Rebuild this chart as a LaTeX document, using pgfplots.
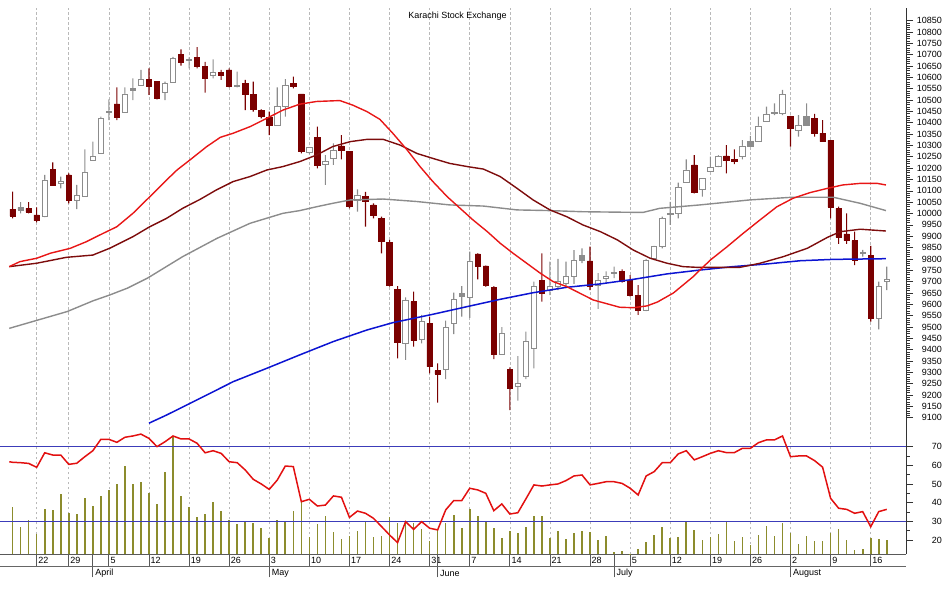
\documentclass[border=0pt]{standalone}
\usepackage{pgfplots}
\usepackage{pgfplotstable}
\pgfplotsset{compat=1.18}
\usepackage{fontspec}
\setmainfont{Liberation Sans}

\definecolor{dn}{RGB}{122,0,0}
\definecolor{hol}{RGB}{140,140,140}
\definecolor{gr}{RGB}{140,140,140}
\definecolor{maR}{RGB}{232,22,22}
\definecolor{maM}{RGB}{125,12,12}
\definecolor{maG}{RGB}{140,140,140}
\definecolor{maB}{RGB}{12,20,210}
\definecolor{rsiR}{RGB}{226,16,16}
\definecolor{lvl}{RGB}{60,60,185}
\definecolor{vol}{RGB}{140,140,45}
\definecolor{gridc}{RGB}{185,185,185}

\tikzset{lbl/.style={font=\fontsize{9}{10}\selectfont}}

% down candles (maroon)
\pgfplotstableread{
i o h l c
0 10020 10097 9979 9989
2 10023 10050 10001 10005
3 9994 10027 9961 9969
5 10195 10226 10126 10126
7 10170 10177 10045 10060
13 10483 10556 10412 10424
17 10592 10640 10523 10559
18 10582 10582 10503 10508
21 10703 10724 10652 10665
23 10687 10733 10640 10647
24 10647 10669 10533 10596
26 10621 10633 10589 10611
27 10633 10640 10556 10559
29 10574 10589 10456 10523
30 10523 10581 10449 10459
31 10456 10459 10420 10427
32 10424 10449 10346 10390
35 10574 10603 10552 10559
36 10527 10527 10265 10273
38 10336 10383 10199 10211
41 10298 10346 10239 10277
42 10273 10273 10023 10033
44 10074 10096 9942 10052
45 10038 10045 9979 9994
46 9979 9986 9825 9876
47 9872 9884 9678 9685
48 9665 9680 9362 9431
50 9612 9656 9413 9440
52 9516 9546 9296 9325
53 9308 9340 9167 9293
58 9822 9825 9710 9766
59 9769 9770 9678 9685
60 9675 9680 9358 9381
62 9314 9322 9134 9230
66 9707 9825 9612 9649
72 9791 9854 9663 9678
76 9744 9754 9695 9700
77 9704 9729 9634 9641
78 9641 9685 9553 9575
85 10214 10258 10089 10092
89 10254 10302 10177 10236
90 10239 10283 10218 10232
97 10427 10430 10295 10376
100 10420 10439 10339 10354
101 10354 10412 10317 10317
102 10324 10324 9979 10028
103 10023 10030 9866 9895
104 9910 10001 9866 9881
105 9881 9920 9773 9795
107 9817 9857 9524 9538
}\tabD

% up candles (hollow)
\pgfplotstableread{
i o h l c
4 9986 10170 9984 10148
6 10133 10163 10111 10140
8 10060 10126 10019 10079
9 10074 10283 10074 10180
10 10236 10317 10236 10251
11 10263 10427 10263 10420
12 10448 10503 10412 10452
14 10446 10556 10446 10527
16 10567 10633 10567 10592
19 10533 10582 10500 10574
20 10577 10691 10577 10684
22 10677 10688 10640 10679
25 10611 10680 10596 10621
28 10562 10625 10556 10564
33 10390 10556 10390 10471
34 10471 10592 10427 10566
37 10268 10290 10262 10290
39 10218 10258 10126 10229
40 10243 10309 10214 10280
43 10060 10107 10008 10082
49 9428 9631 9355 9615
51 9446 9553 9428 9524
54 9311 9528 9270 9499
55 9516 9651 9469 9622
57 9629 9832 9540 9791
61 9377 9499 9377 9472
63 9240 9372 9175 9252
64 9281 9480 9270 9436
65 9406 9700 9318 9678
67 9660 9788 9640 9680
68 9680 9800 9663 9700
69 9692 9788 9678 9722
70 9722 9839 9690 9795
73 9685 9737 9580 9707
74 9715 9745 9690 9725
75 9735 9766 9715 9742
79 9575 9800 9570 9795
80 9803 9857 9795 9854
81 9854 9986 9847 9979
82 9996 10052 9950 10000
83 10001 10136 9979 10116
84 10136 10239 10136 10192
86 10107 10155 10075 10155
87 10186 10251 10186 10204
88 10210 10258 10205 10254
91 10251 10324 10239 10298
93 10317 10427 10317 10386
94 10405 10471 10405 10437
95 10442 10486 10434 10448
96 10442 10545 10434 10523
98 10368 10434 10339 10390
106 9825 9840 9810 9830
108 9538 9700 9490 9678
109 9700 9766 9663 9710
}\tabU

% grey candles
\pgfplotstableread{
i o h l c
1 10016 10050 10001 10027
15 10541 10596 10500 10551
56 9636 9680 9546 9646
71 9795 9847 9781 9817
92 10298 10342 10295 10317
99 10390 10486 10390 10427
}\tabG

% volume (relative)
\pgfplotstableread{
i v
0 47
1 27
2 34
3 20
4 45
5 44
6 60
7 41
8 40
9 56
10 48
11 58
12 64
13 70
14 88
15 70
16 72
17 61
18 50
19 82
20 118
21 58
22 47
23 37
24 40
25 52
26 43
27 34
28 30
29 32
30 31
31 26
32 16
33 34
34 33
35 43
36 52
37 17
38 30
39 38
40 22
41 15
42 18
43 23
44 32
45 17
46 18
47 37
48 31
49 33
50 31
51 25
52 13
53 24
54 31
55 39
56 26
57 45
58 38
59 33
60 26
61 16
62 23
63 21
64 27
65 38
66 38
67 16
68 23
69 15
70 21
71 23
72 22
73 14
74 18
75 2.3
76 3.3
77 0.5
78 5
79 12
80 19
81 27
82 16
83 17
84 33
85 24
86 14
87 17
88 20
89 32
90 13
91 17
92 9
93 19
94 28
95 18
96 31
97 21
98 10
99 18
100 13
101 13
102 21
103 25
104 14
105 4.3
106 5.3
107 16
108 15
109 14
}\tabV

\newcommand{\candles}[4]{%
  \addplot[draw=none, fill=none, bar width=1pt] table[x=i, y=l] {#1};
  \addplot[draw=none, fill=#2, bar width=1.1pt] table[x=i, y expr={min(\thisrow{o},\thisrow{c})-\thisrow{l}}] {#1};
  \addplot[fill=#3, draw=#4, line width=0.8pt, bar width=5.4pt] table[x=i, y expr={abs(\thisrow{c}-\thisrow{o})}] {#1};
  \addplot[draw=none, fill=#2, bar width=1.1pt] table[x=i, y expr={\thisrow{h}-max(\thisrow{o},\thisrow{c})}] {#1};
}

\pgfplotsset{
  mainframe/.style={at={(0pt,159pt)}, anchor=south west, scale only axis,
    width=906pt, height=422pt, xmin=-1.576, xmax=111.4, ymin=9046, ymax=10906},
  lowframe/.style={at={(0pt,34.7pt)}, anchor=south west, scale only axis,
    width=906pt, height=124.3pt, xmin=-1.576, xmax=111.4},
  weekticks/.style={xtick={3,7,12,17,22,27,32,37,42,47,52,57,62,67,72,77,82,87,92,97,102,107}},
  gridstyle/.style={xmajorgrids, major grid style={gridc, dash pattern=on 2.5pt off 2.5pt, line width=0.6pt}},
}

\begin{document}
\begin{tikzpicture}
\path[use as bounding box] (0,0) rectangle (943pt,589pt);

% ---- candles (down) with grid
\begin{axis}[mainframe, ybar stacked, weekticks, gridstyle,
  axis x line*=bottom, axis y line=none, x axis line style={draw=none},
  xticklabels={}, xtick style={draw=none}]
\candles{\tabD}{dn}{dn}{dn}
\end{axis}
% ---- candles (up, hollow)
\begin{axis}[mainframe, ybar stacked, hide axis]
\candles{\tabU}{hol}{white}{hol}
\end{axis}
% ---- candles (grey)
\begin{axis}[mainframe, ybar stacked, hide axis]
\candles{\tabG}{gr}{gr}{gr}
\end{axis}

% ---- moving averages + price axis
\begin{axis}[mainframe, axis x line=none, axis y line*=right,
  y axis line style={draw=black!80, line width=0.8pt},
  ytick={9100,9150,...,10850}, minor tick num=4, scaled y ticks=false,
  tick align=outside, major tick length=7pt, minor tick length=3.5pt,
  tick style={black!80, line width=0.7pt},
  yticklabel style={lbl, anchor=east, inner sep=0pt, xshift=29pt,
    /pgf/number format/.cd, fixed, precision=0, 1000 sep={}, assume math mode=true}]
\addplot[maG, line width=1.4pt] coordinates {(-0.42,9494) (2.5,9524) (6.8,9568) (10,9615) (12.1,9641) (14.3,9671) (16.8,9715) (21.2,9810) (25.5,9891) (29.6,9957) (33.7,10001) (35.8,10013) (37.9,10030) (39.9,10045) (42.1,10060) (46.2,10064) (50.4,10053) (54.5,10038) (58.7,10033) (62.9,10016) (67,10013) (71.1,10008) (75.7,10006) (78.6,10005) (80.7,10023) (85.7,10038) (91.9,10060) (97.3,10072) (102.3,10072) (105.7,10045) (108.9,10013)};
\addplot[maB, line width=1.5pt] coordinates {(17,9076) (19.2,9112) (21.7,9156) (24.2,9200) (27.5,9259) (31.7,9318) (35.8,9377) (40,9436) (44.2,9487) (47.4,9519) (52.4,9556) (56.7,9590) (60.8,9622) (64.9,9651) (69.1,9675) (73.3,9690) (77.4,9710) (81.6,9734) (85.7,9751) (89.8,9766) (94.1,9778) (98.2,9792) (102.3,9798) (108.9,9801)};
\addplot[maM, line width=1.4pt] coordinates {(-0.42,9766) (3,9781) (6.7,9807) (10,9817) (12.1,9847) (15,9898) (17.1,9942) (19.2,9979) (21.2,10023) (23.4,10063) (25.4,10104) (27.5,10141) (29.6,10163) (31.7,10192) (33.7,10207) (35.8,10229) (37.9,10258) (39.9,10295) (42.1,10317) (44.2,10327) (46.2,10327) (48.3,10302) (50.4,10265) (52.4,10243) (54.5,10221) (56.7,10207) (58.7,10196) (60.8,10163) (62.9,10111) (64.9,10060) (67,10016) (69.1,9986) (71.1,9950) (73.3,9920) (75.4,9884) (77.4,9839) (79.5,9803) (81.6,9781) (83.6,9766) (85.3,9763) (87.8,9763) (90.7,9763) (93.2,9781) (96.1,9810) (99.1,9847) (101.6,9895) (103.2,9920) (105.7,9931) (108.9,9923)};
\addplot[maR, line width=1.4pt] coordinates {(-0.42,9766) (0.9,9788) (3,9803) (4.7,9825) (7.2,9847) (9.2,9876) (10.9,9906) (13,9942) (15,10001) (17.1,10074) (19.2,10148) (20.5,10192) (22.1,10236) (24.2,10295) (25.9,10336) (27.5,10354) (29.6,10383) (31.7,10420) (33.7,10456) (35.8,10482) (37.9,10494) (40.8,10498) (42.4,10478) (44.2,10449) (45.8,10415) (47.4,10354) (49.2,10280) (50.8,10207) (52.4,10141) (54.2,10074) (55.8,10023) (57.4,9972) (59.2,9920) (60.8,9869) (62.4,9825) (64.1,9781) (65.8,9737) (67.4,9700) (69.1,9678) (72.4,9619) (75.7,9587) (77.4,9585) (79.1,9593) (80.4,9610) (82.4,9650) (84.8,9720) (87,9795) (89.1,9854) (91.1,9913) (93.2,9972) (95.3,10030) (97.3,10067) (99.4,10092) (101.6,10111) (103.5,10126) (105.7,10133) (107.8,10133) (108.9,10126)};
\end{axis}

% ---- volume + date axis
\begin{axis}[lowframe, ymin=0, ymax=124.3, weekticks, gridstyle,
  axis x line*=bottom, axis y line=none,
  x axis line style={draw=black!65, line width=0.8pt},
  tick align=outside, major tick length=12.4pt,
  xtick style={draw=black!65, line width=0.8pt},
  xticklabels={22,29,5,12,19,26,3,10,17,24,31,7,14,21,28,5,12,19,26,2,9,16},
  xticklabel style={lbl, anchor=west, inner sep=0pt, xshift=1.5pt, yshift=6pt},
  extra x ticks={10,32,53,75,97},
  extra x tick labels={April,May,June,July,August},
  extra x tick style={grid=none, major tick length=23pt,
    tick label style={xshift=0.8pt, yshift=-2.2pt}}]
\addplot[ycomb, draw=vol, line width=1.6pt, mark=none] table[x=i, y=v] {\tabV};
\end{axis}
\draw[black!60, line width=0.8pt] (0pt,22.3pt) -- (906pt,22.3pt);

% ---- RSI
\begin{axis}[lowframe, ymin=12.34, ymax=78.9,
  axis x line=none, axis y line*=right,
  y axis line style={draw=black!80, line width=0.8pt},
  ytick={20,30,...,70}, minor tick num=1,
  tick align=outside, major tick length=7pt, minor tick length=3.5pt,
  tick style={black!80, line width=0.7pt},
  yticklabel style={lbl, anchor=east, inner sep=0pt, xshift=29pt,
    /pgf/number format/.cd, assume math mode=true}]
\addplot[lvl, line width=0.8pt] coordinates {(-1.576,70) (111.4,70)};
\addplot[lvl, line width=0.8pt] coordinates {(-1.576,30) (111.4,30)};
\addplot[rsiR, line width=1.5pt] coordinates {(-0.42,61.9) (0,61.6) (1,61.4) (2,61.0) (3,58.9) (4,66.7) (5,65.5) (6,65.5) (7,60.5) (8,61.1) (9,64.6) (10,67.8) (11,73.9) (12,73.9) (13,72.3) (14,75.0) (15,75.7) (16,76.7) (17,74.4) (18,70.0) (19,72.6) (20,75.7) (21,74.1) (22,74.1) (23,71.8) (24,66.7) (25,67.8) (26,66.4) (27,61.9) (28,61.4) (29,57.5) (30,52.5) (31,50.0) (32,47.1) (33,52.1) (34,59.6) (35,59.3) (36,40.5) (37,41.8) (38,38.2) (39,38.7) (40,43.6) (41,42.9) (42,32.1) (43,35.5) (44,34.3) (45,31.6) (46,27.2) (47,22.7) (48,18.6) (49,29.8) (50,25.7) (51,29.8) (52,26.3) (53,25.4) (54,36.1) (55,41.1) (56,41.1) (57,47.7) (58,46.8) (59,45.0) (60,35.7) (61,39.3) (62,33.9) (63,34.6) (64,42.0) (65,49.5) (66,48.9) (67,49.5) (68,50.0) (69,51.8) (70,54.3) (71,54.8) (72,49.5) (73,50.3) (74,51.2) (75,51.2) (76,50.3) (77,47.7) (78,44.1) (79,54.3) (80,56.6) (81,61.4) (82,61.4) (83,66.1) (84,67.8) (85,62.9) (86,64.6) (87,66.4) (88,67.8) (89,66.8) (90,66.8) (91,69.1) (92,69.1) (93,72.1) (94,73.6) (95,73.6) (96,75.7) (97,64.6) (98,65.0) (99,65.0) (100,62.5) (101,59.0) (102,42.3) (103,37.0) (104,36.4) (105,34.3) (106,35.2) (107,27.1) (108,35.2) (109,36.4)};
\end{axis}

\node[lbl, anchor=center] at (457.5pt,573pt) {Karachi Stock Exchange};
\end{tikzpicture}
\end{document}
